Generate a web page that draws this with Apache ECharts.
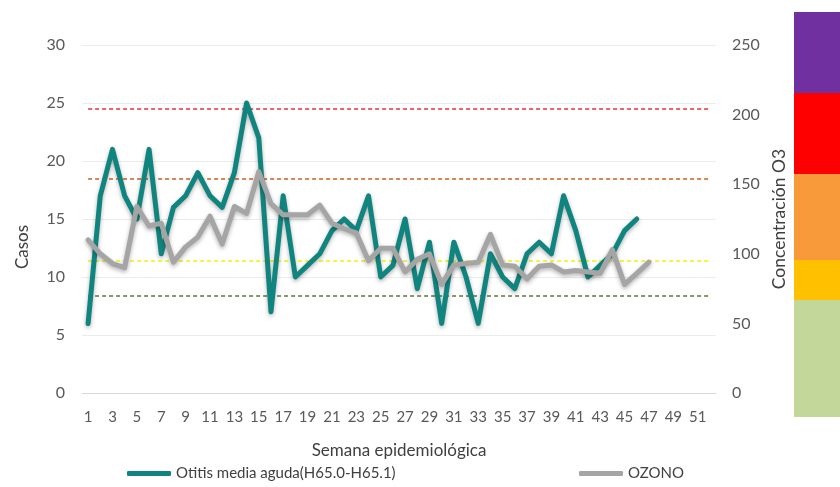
<!DOCTYPE html>
<html>
<head>
<meta charset="utf-8">
<script src="https://cdn.jsdelivr.net/npm/echarts@6/dist/echarts.min.js"></script>
<style>
  html, body { margin: 0; padding: 0; background: #fff; }
  #chart { width: 840px; height: 487px; }
</style>
</head>
<body>
<div id="chart"></div>
<script>
// semanas epidemiológicas
const semanas = ['1','2','3','4','5','6','7','8','9','10','11','12','13','14','15','16','17','18','19','20',
  '21','22','23','24','25','26','27','28','29','30','31','32','33','34','35','36','37','38','39','40',
  '41','42','43','44','45','46','47','48','49','50','51','52']

// casos de otitis (eje izquierdo)
const otitis = [6, 17, 21, 17, 15, 21, 12, 16, 17, 19, 17, 16, 19, 25, 22, 7, 17, 10, 11, 12,
  14, 15, 14, 17, 10, 11, 15, 9, 13, 6, 13, 10, 6, 12, 10, 9, 12, 13, 12, 17,
  14, 10, 11, 12, 14, 15]

// concentración de ozono (eje derecho)
const ozono = [110, 100, 93, 90, 134, 120, 122, 94, 105, 112, 127, 107, 134, 129, 159, 136, 128, 128, 128, 135,
  122, 118, 115, 95, 104, 104, 87, 96, 100, 78, 92, 93, 94, 114, 92, 91, 82, 91, 92, 87,
  88, 87, 86, 103, 78, 86, 94]

// umbrales de ozono y sus colores
const umbrales = [70, 95, 154, 204]
const umbralColores = ['#5b7a3c', '#f2f20a', '#c8601e', '#e8303a']

// barra de escala de colores (de abajo hacia arriba)
const escalaColores = ['#c4d79b', '#ffc000', '#f99a3a', '#ff0000', '#7030a0']
const escalaAlturas = [117, 40, 86, 81, 81]

const fontFamily = 'Lato, "Open Sans", sans-serif'
const chart = echarts.init(document.getElementById('chart'))

const escalaSeries = escalaColores.map((c, i) => ({
  type: 'bar',
  xAxisIndex: 1,
  yAxisIndex: 2,
  stack: 'escala',
  barWidth: '100%',
  silent: true,
  itemStyle: { color: c },
  data: [escalaAlturas[i]]
}))

chart.setOption({
  backgroundColor: '#fff',
  textStyle: { fontFamily },
  animation: false,
  grid: [
    { left: 82, right: 124, top: 45, bottom: 94 },
    { left: 794, width: 46, top: 12, bottom: 70 }
  ],
  legend: [
    {
      left: 122, top: 461,
      icon: 'roundRect', itemWidth: 44, itemHeight: 5,
      textStyle: { fontSize: 15, color: '#404040', fontFamily },
      data: ['Otitis media aguda(H65.0-H65.1)']
    },
    {
      left: 574, top: 461,
      icon: 'roundRect', itemWidth: 44, itemHeight: 5,
      textStyle: { fontSize: 15, color: '#404040', fontFamily },
      data: ['OZONO']
    }
  ],
  xAxis: [
    {
      type: 'category',
      data: semanas,
      name: 'Semana epidemiológica',
      nameLocation: 'middle',
      nameGap: 49,
      nameTextStyle: { fontSize: 17, color: '#404040' },
      axisLine: { lineStyle: { color: '#d9d9d9' } },
      axisTick: { show: false },
      axisLabel: { interval: 1, color: '#595959', fontSize: 15, margin: 17 }
    },
    { type: 'category', gridIndex: 1, data: ['escala'], show: false }
  ],
  yAxis: [
    {
      type: 'value',
      min: 0, max: 30, interval: 5,
      name: 'Casos',
      nameLocation: 'middle',
      nameGap: 51,
      nameTextStyle: { fontSize: 17, color: '#404040', padding: [0, 56, 0, 0] },
      axisLine: { show: false },
      axisTick: { show: false },
      axisLabel: { color: '#595959', fontSize: 16, margin: 17 },
      splitLine: { lineStyle: { color: '#ececec' } }
    },
    {
      type: 'value',
      min: 0, max: 250, interval: 50,
      name: 'Concentración O3',
      nameLocation: 'middle',
      nameGap: 53,
      nameRotate: 90,
      nameTextStyle: { fontSize: 17.5, color: '#404040' },
      axisLine: { show: false },
      axisTick: { show: false },
      axisLabel: { color: '#595959', fontSize: 16, margin: 16 },
      splitLine: { show: false }
    },
    { type: 'value', gridIndex: 1, min: 0, max: 405, show: false }
  ],
  series: [
    {
      name: 'Otitis media aguda(H65.0-H65.1)',
      type: 'line',
      data: otitis,
      symbol: 'none',
      z: 3,
      itemStyle: { color: '#10857f' },
      lineStyle: {
        color: '#10857f', width: 5, join: 'round', cap: 'round',
        shadowColor: 'rgba(0,0,0,0.3)', shadowBlur: 4, shadowOffsetY: 2
      }
    },
    {
      name: 'OZONO',
      type: 'line',
      yAxisIndex: 1,
      data: ozono,
      symbol: 'none',
      z: 4,
      itemStyle: { color: '#a5a5a5' },
      lineStyle: {
        color: '#a5a5a5', width: 5, join: 'round', cap: 'round',
        shadowColor: 'rgba(0,0,0,0.3)', shadowBlur: 4, shadowOffsetY: 2
      },
      markLine: {
        silent: true,
        symbol: 'none',
        label: { show: false },
        z: 2,
        data: umbrales.map((v, i) => [
          { xAxis: semanas[0], yAxis: v, lineStyle: { color: umbralColores[i], type: [4, 3], width: 1.5 } },
          { xAxis: semanas[semanas.length - 1], yAxis: v }
        ])
      }
    },
    ...escalaSeries
  ]
})
</script>
</body>
</html>
